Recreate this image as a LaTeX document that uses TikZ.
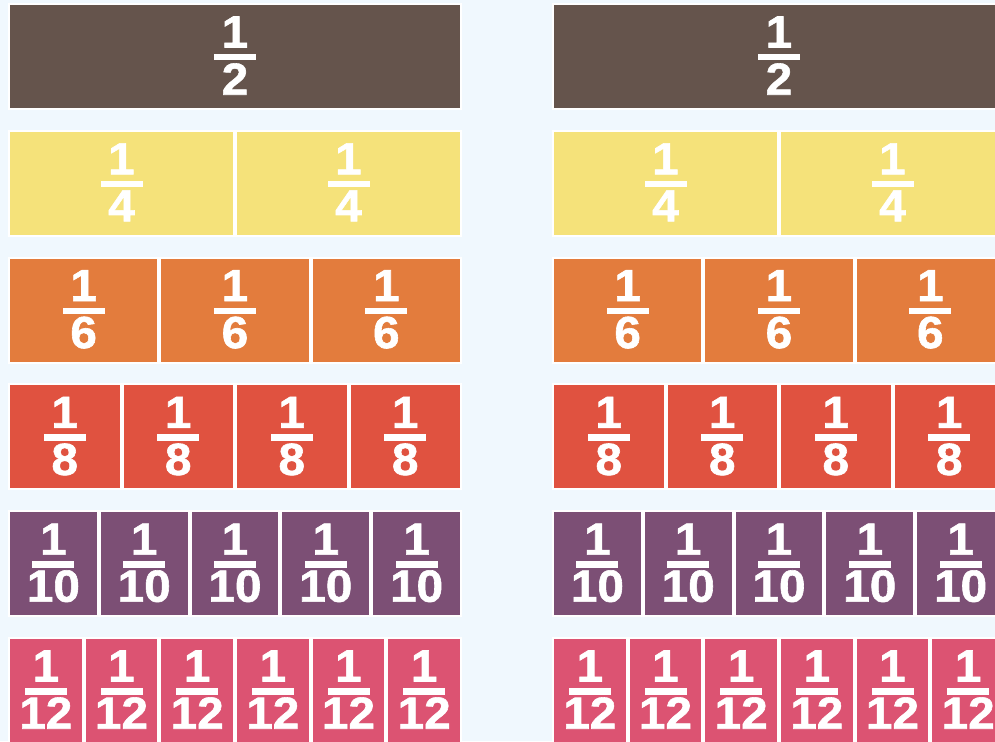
\documentclass[tikz,border=0pt]{standalone}
\usepackage{fontspec}
\usetikzlibrary{positioning}
\newfontfamily\fracfont[FakeStretch=1.06,BoldFeatures={FakeBold=1.3}]{Liberation Sans}
\definecolor{bgblue}{RGB}{240,248,254}
\definecolor{barbrown}{RGB}{101,84,76}
\definecolor{baryellow}{RGB}{245,226,122}
\definecolor{barorange}{RGB}{227,124,61}
\definecolor{barred}{RGB}{224,82,64}
\definecolor{barpurple}{RGB}{124,79,117}
\definecolor{barpink}{RGB}{220,83,114}
\tikzset{
  piece/.style={draw=white, line width=2pt, minimum width=#1, minimum height=105pt, inner sep=0pt, outer sep=0pt},
  fracnum/.style={text=white, inner sep=0pt, font=\fracfont\bfseries\fontsize{45}{45}\selectfont}
}

\begin{document}
\begin{tikzpicture}[x=1pt,y=-1pt]
  \useasboundingbox (0,0) rectangle (995,741);
  \fill[bgblue] (0,0) rectangle (995,741);
  \clip (0,0) rectangle (995,741);
  % one row per denominator, left and right copies
  \foreach \m/\c [count=\r from 0] in {1/barbrown,2/baryellow,3/barorange,4/barred,5/barpurple,6/barpink}{
    \pgfmathsetmacro\w{454/\m}
    \pgfmathsetmacro\wi{\w-2}
    \pgfmathtruncatemacro\d{2*\m}
    \foreach \x/\s in {8/l,552/r}{
      \foreach \k in {1,...,\m}{
        \node[piece=\wi pt, fill=\c] (p\s\r\k) at ({\x+\w*(\k-0.5)},{56.5+126.8*\r}) {};
        \node[fracnum] (n\s\r\k) at ([yshift=24.5pt]p\s\r\k.center) {1};
        \fill[white] ([xshift=-21pt,yshift=2.5pt]p\s\r\k.center) rectangle ([xshift=21pt,yshift=-4pt]p\s\r\k.center);
        \node[fracnum] (d\s\r\k) at ([yshift=-22.5pt]p\s\r\k.center) {\d};
      }
    }
  }
\end{tikzpicture}
\end{document}
